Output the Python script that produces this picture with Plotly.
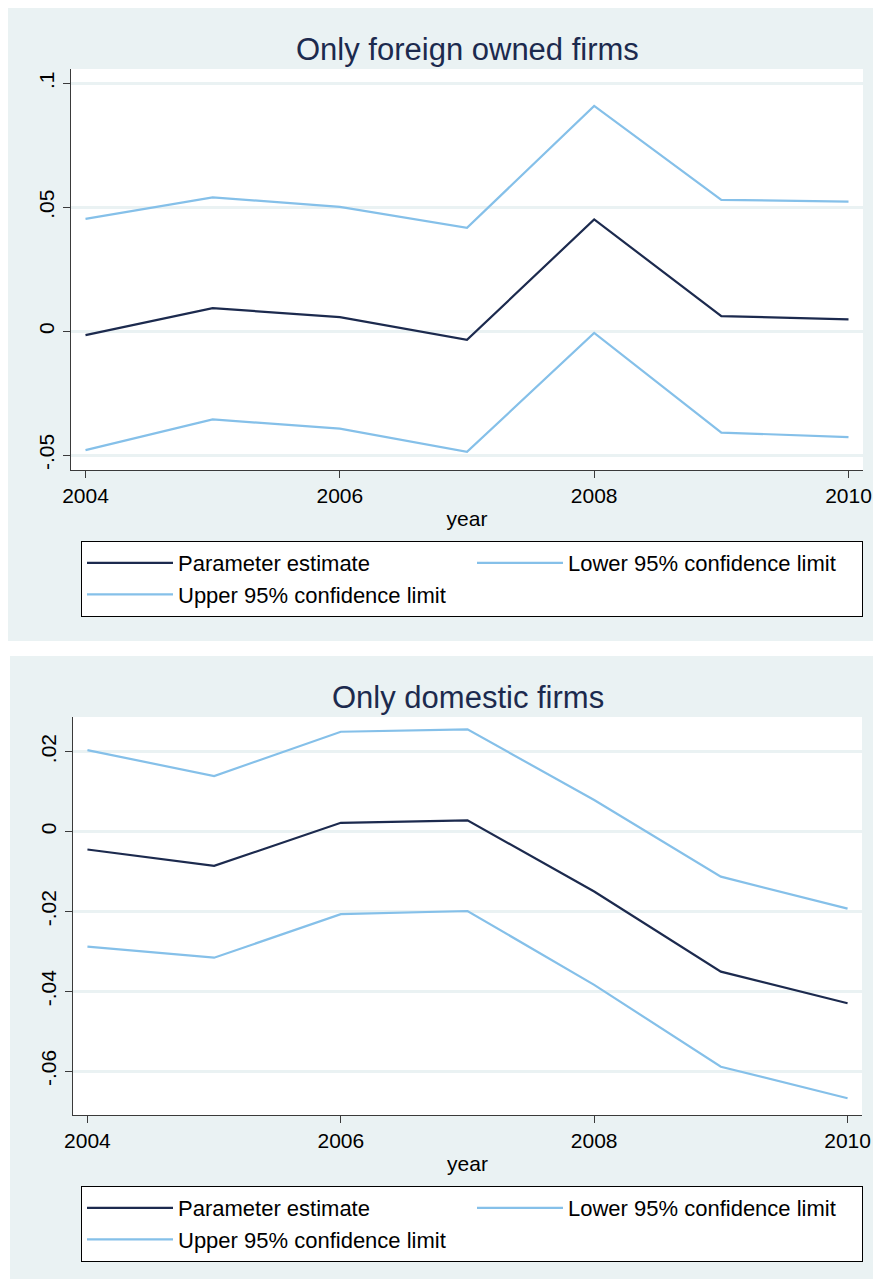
import plotly.graph_objects as go

# ---------------- data ----------------
years = [2004, 2005, 2006, 2007, 2008, 2009, 2010]

foreign_param = [-0.0016, 0.0093, 0.0057, -0.0035, 0.0451, 0.0061, 0.0048]
foreign_lower = [-0.0480, -0.0356, -0.0393, -0.0487, -0.0007, -0.0409, -0.0427]
foreign_upper = [0.0453, 0.0540, 0.0502, 0.0417, 0.0909, 0.0530, 0.0523]

domestic_param = [-0.0045, -0.0086, 0.0022, 0.0028, -0.0150, -0.0351, -0.0430]
domestic_lower = [-0.0288, -0.0316, -0.0207, -0.0199, -0.0384, -0.0589, -0.0668]
domestic_upper = [0.0204, 0.0139, 0.0250, 0.0256, 0.0079, -0.0113, -0.0193]

x_tickvals = [2004, 2006, 2008, 2010]
y1_tickvals = [-0.05, 0, 0.05, 0.1]
y1_ticktext = ["-.05", "0", ".05", ".1"]
y2_tickvals = [-0.06, -0.04, -0.02, 0, 0.02]
y2_ticktext = ["-.06", "-.04", "-.02", "0", ".02"]

titles = ["Only foreign owned firms", "Only domestic firms"]
names = ["Parameter estimate", "Lower 95% confidence limit", "Upper 95% confidence limit"]

# ---------------- style ----------------
W, H = 873, 1279
BG = "#EAF2F3"
NAVY = "#1C2A4E"
LBLUE = "#85C0E9"
AXC = "#3a3a3a"
FONT = "Liberation Sans, Arial, sans-serif"

fig = go.Figure()

panels = [
    (foreign_param, foreign_lower, foreign_upper, "x", "y", "legend"),
    (domestic_param, domestic_lower, domestic_upper, "x2", "y2", "legend2"),
]
for p, lo, up, xa, ya, lg in panels:
    for name, vals, col in zip(names, [p, lo, up], [NAVY, LBLUE, LBLUE]):
        fig.add_trace(go.Scatter(
            x=years, y=vals, mode="lines", name=name,
            line=dict(color=col, width=2.2),
            xaxis=xa, yaxis=ya, legend=lg, showlegend=True,
        ))

def px_x(v):
    return v / W

def px_y(v):
    return 1 - v / H

xaxis_common = dict(
    range=[2003.886, 2010.114], tickvals=x_tickvals, ticks="outside", ticklen=7,
    tickwidth=1, tickcolor=AXC, showline=True, linecolor=AXC, linewidth=1.3,
    showgrid=False, zeroline=False, tickfont=dict(size=21, color="black", family=FONT),
    title=dict(text="year", font=dict(size=21, color="black", family=FONT), standoff=4),
)
yaxis_common = dict(
    ticks="outside", ticklen=7, tickwidth=1, tickcolor=AXC, showline=True,
    linecolor=AXC, linewidth=1.3, showgrid=True, gridcolor=BG, gridwidth=2.5,
    zeroline=False, tickangle=-90, tickfont=dict(size=21, color="black", family=FONT),
)

legend_common = dict(
    orientation="h", xanchor="left", yanchor="top", bgcolor="white",
    bordercolor="black", borderwidth=1, font=dict(size=22, color="black", family=FONT),
    entrywidthmode="pixels", entrywidth=289, itemwidth=86, tracegroupgap=0,
    xref="paper", yref="paper",
)

fig.update_layout(
    width=W, height=H, autosize=False,
    margin=dict(l=0, r=0, t=0, b=0, autoexpand=False),
    paper_bgcolor="white", plot_bgcolor="white",
    font=dict(family=FONT),
    xaxis=dict(domain=[px_x(71), px_x(863)], anchor="y", **xaxis_common),
    yaxis=dict(domain=[px_y(470), px_y(69)], anchor="x", range=[-0.056, 0.1058],
               tickvals=y1_tickvals, ticktext=y1_ticktext, **yaxis_common),
    xaxis2=dict(domain=[px_x(73), px_x(862)], anchor="y2", **xaxis_common),
    yaxis2=dict(domain=[px_y(1115), px_y(717)], anchor="x2", range=[-0.071, 0.0287],
                tickvals=y2_tickvals, ticktext=y2_ticktext, **yaxis_common),
    legend=dict(x=px_x(81), y=px_y(541), **legend_common),
    legend2=dict(x=px_x(81), y=px_y(1186), **legend_common),
    showlegend=True,
)

shapes = [
    dict(type="rect", xref="paper", yref="paper", x0=px_x(8), x1=1, y0=px_y(641), y1=px_y(8),
         fillcolor=BG, line=dict(width=0), layer="below"),
    dict(type="rect", xref="paper", yref="paper", x0=px_x(10), x1=1, y0=0, y1=px_y(656),
         fillcolor=BG, line=dict(width=0), layer="below"),
    dict(type="rect", xref="x domain", yref="y domain", x0=0, x1=1, y0=0, y1=1,
         fillcolor="white", line=dict(width=0), layer="below"),
    dict(type="rect", xref="x2 domain", yref="y2 domain", x0=0, x1=1, y0=0, y1=1,
         fillcolor="white", line=dict(width=0), layer="below"),
]
fig.update_layout(shapes=shapes)

fig.add_annotation(text=titles[0], xref="x domain", yref="paper", x=0.5, y=px_y(49),
                   showarrow=False, yanchor="middle",
                   font=dict(size=31, color=NAVY, family=FONT))
fig.add_annotation(text=titles[1], xref="x2 domain", yref="paper", x=0.5, y=px_y(697),
                   showarrow=False, yanchor="middle",
                   font=dict(size=31, color=NAVY, family=FONT))

fig.write_html("out.html")
